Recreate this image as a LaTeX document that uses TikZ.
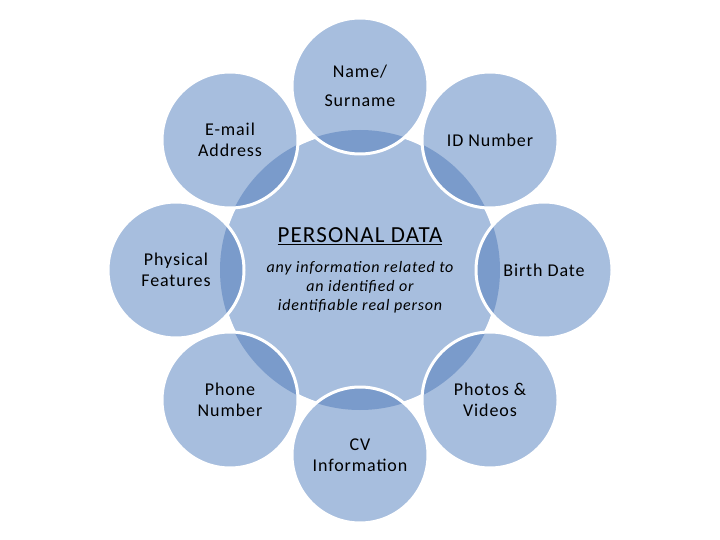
\documentclass[tikz,border=0pt]{standalone}
\usepackage{fontspec}
\setmainfont{Carlito}
\newfontfamily\spaced[LetterSpace=5]{Carlito}
\definecolor{lightblue}{RGB}{167,190,222}
\definecolor{darkblue}{RGB}{122,155,203}
\begin{document}
\begin{tikzpicture}[x=1pt,y=-1pt,
  outer/.style={circle, minimum size=136pt, inner sep=0pt, fill=lightblue, align=center,
    font=\spaced\fontsize{18}{21}\selectfont, text=black},
  rim/.style={draw=white, line width=3pt}]
\useasboundingbox (0,0) rectangle (720,540);
\fill[white] (0,0) rectangle (720,540);
% central circle
\node[circle, minimum size=280pt, inner sep=0pt, fill=lightblue, rim] (pd) at (360,270) {};
% outer circles
\node[outer, font=\spaced\fontsize{18}{29}\selectfont] (name) at (360,86) {Name/\\Surname};
\node[outer] (id) at (490,140) {ID Number};
\node[outer] (birth) at (544,270) {Birth Date};
\node[outer] (photo) at (490,400) {Photos \&\\Videos};
\node[outer] (cv) at (360,455) {CV\\Information};
\node[outer] (phone) at (230,400) {Phone\\Number};
\node[outer] (phys) at (176,270) {Physical\\Features};
\node[outer] (mail) at (230,140) {E-mail\\Address};
% overlaps
\foreach \n in {name,id,birth,photo,cv,phone,phys,mail}{
  \begin{scope}
    \clip (pd.center) circle (140);
    \fill[darkblue] (\n.center) circle (68);
  \end{scope}
  \draw[rim] (\n.center) circle (68);
}
% central texts
\node[font=\spaced\fontsize{23}{27}\selectfont] (title) at (360,236) {\underline{PERSONAL DATA}};
\node[font=\spaced\fontsize{16}{19}\selectfont\itshape, align=center] (desc) at (360,287)
  {any information related to\\an identified or\\identifiable real person};
\end{tikzpicture}
\end{document}
